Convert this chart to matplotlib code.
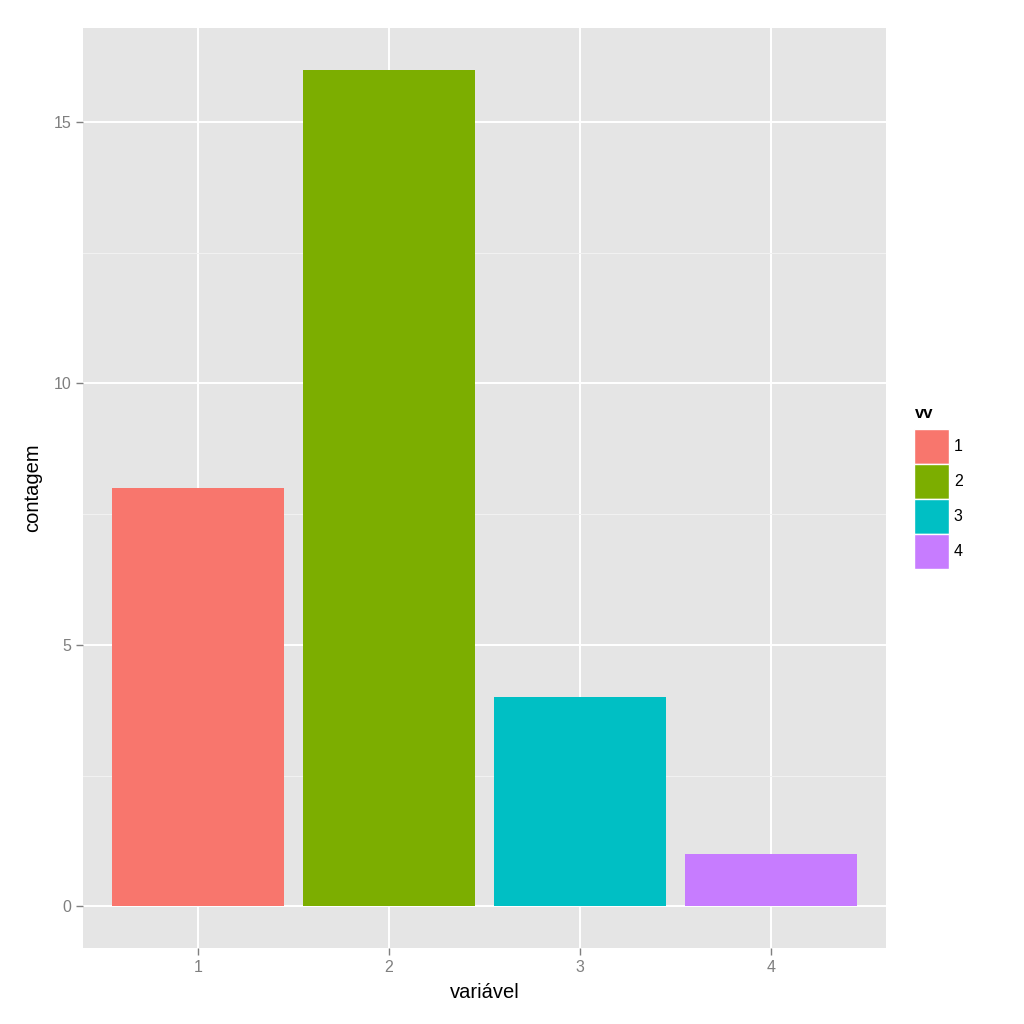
import matplotlib.pyplot as plt
from matplotlib.patches import Patch

plt.rcParams['font.family'] = ['Liberation Sans', 'DejaVu Sans']

# data
categorias = [1, 2, 3, 4]
contagem = [8, 16, 4, 1]
cores = ["#F8766D", "#7CAE00", "#00BFC4", "#C77CFF"]
y_ticks = [0, 5, 10, 15]

fig = plt.figure(figsize=(10.24, 10.24), dpi=100)
ax = fig.add_axes([83 / 1024, 1 - 948 / 1024, (886 - 83) / 1024, (948 - 28) / 1024])

ax.set_facecolor("#E5E5E5")
ax.bar(categorias, contagem, width=0.9, color=cores, zorder=3)

ax.set_xlim(0.4, 4.6)
ax.set_ylim(-0.8, 16.8)
ax.set_xticks(categorias)
ax.set_yticks(y_ticks)
ax.set_yticks([2.5, 7.5, 12.5], minor=True)

ax.grid(which="major", color="white", linewidth=1.4, zorder=1)
ax.grid(which="minor", axis="y", color="#F2F2F2", linewidth=0.7, zorder=1)
ax.set_axisbelow(True)
for s in ax.spines.values():
    s.set_visible(False)

ax.tick_params(which="major", colors="#7F7F7F", labelsize=11.5, length=5, width=1)
ax.tick_params(which="minor", length=0)
for lbl in ax.get_xticklabels() + ax.get_yticklabels():
    lbl.set_color("#7F7F7F")

ax.set_xlabel("variável", fontsize=14.5, labelpad=6)
ax.set_ylabel("contagem", fontsize=14.5, labelpad=8)

# legend (title drawn separately so the gap matches)
fig.text(915 / 1024, 1 - 413 / 1024, "vv", fontsize=12, fontweight="bold",
         ha="left", va="center")
handles = [Patch(facecolor=c, edgecolor="white", linewidth=1) for c in cores]
leg = fig.legend(handles, [str(c) for c in categorias],
                 loc="upper left", bbox_to_anchor=(914 / 1024, 1 - 429 / 1024),
                 frameon=False, fontsize=11.5,
                 handlelength=2.2, handleheight=3.0, labelspacing=0, handletextpad=0.3,
                 borderpad=0, borderaxespad=0)

fig.savefig("out.png", dpi=100)
